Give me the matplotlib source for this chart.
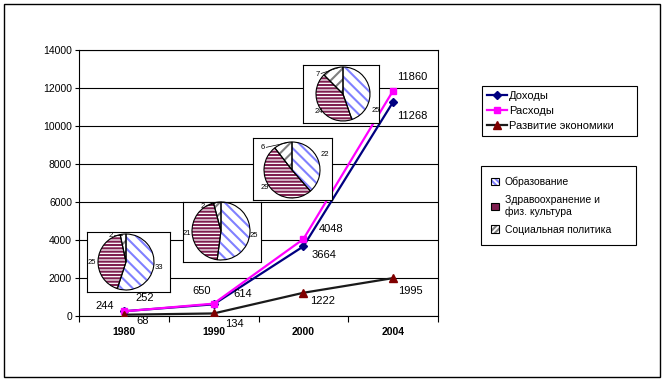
import numpy as np
import matplotlib
matplotlib.use("Agg")
import matplotlib.pyplot as plt
from matplotlib.patches import Patch, Rectangle

plt.rcParams['font.family'] = ['Liberation Sans', 'DejaVu Sans']
plt.rcParams['hatch.linewidth'] = 1.5

years = ['1980', '1990', '2000', '2004']
income = [252, 614, 3664, 11268]      # Доходы
expenses = [244, 650, 4048, 11860]    # Расходы
economy = [68, 134, 1222, 1995]       # Развитие экономики

# pie data per year
edu = [33, 25, 22, 25]
health = [25, 21, 29, 24]
social = [2, 2, 6, 7]

W, H = 666, 385
fig = plt.figure(figsize=(W / 100, H / 100), dpi=100)

# outer frame
fig.add_artist(Rectangle((4 / W, 1 - 377 / H), 656 / W, 373 / H, transform=fig.transFigure,
                         fill=False, ec='black', lw=1))

ax = fig.add_axes([79 / W, 1 - 316 / H, 359 / W, 266 / H])
x = np.arange(1, len(years) + 1)

l1, = ax.plot(x, income, color='#000080', marker='D', ms=4.5, lw=1.6, zorder=3)
l2, = ax.plot(x, expenses, color='#FF00FF', marker='s', ms=4.5, lw=1.6, zorder=3)
l3, = ax.plot(x, economy, color='#1a1a1a', marker='^', ms=5.5, mfc='#800000', mec='#800000',
              lw=1.6, zorder=3)

ax.set_xlim(0.5, 4.5)
ax.set_ylim(0, 14000)
ax.set_yticks(range(0, 14001, 2000))
ax.yaxis.grid(True, color='black', lw=0.8)
ax.set_axisbelow(True)
ax.tick_params(axis='y', length=3, width=0.8, pad=2, labelsize=7.5)
ax.set_xticks(np.arange(0.5, 4.6, 1))
ax.set_xticklabels([])
ax.tick_params(axis='x', which='major', length=4, width=0.8, direction='out')
ax.set_xticks(x, minor=True)
ax.set_xticklabels(years, minor=True, fontweight='bold', fontsize=7.5)
ax.tick_params(axis='x', which='minor', length=0, pad=8)
for s in ax.spines.values():
    s.set_linewidth(0.8)
    s.set_color('black')

# data labels (offsets in pixels -> points)
def lab(xi, v, dx, dy):
    ax.annotate(str(v), (xi, v), xytext=(dx * 0.72, dy * 0.72), textcoords='offset points',
                ha='center', va='center', fontsize=8, zorder=5)

exp_off = [(-19, 5), (-12, 13), (28, 10), (19, 14)]
inc_off = [(21, 13), (29, 10), (21, -9), (19, -14)]
eco_off = [(19, -6), (21, -11), (19, -8), (17, -13)]
for i in range(4):
    lab(x[i], expenses[i], *exp_off[i])
    lab(x[i], income[i], *inc_off[i])
    lab(x[i], economy[i], *eco_off[i])

# inset pies
hatch_cols = ['#8080FF', '#7f1f50', '#808080']
hatches = ['\\\\\\', '-----', '///']
boxes = [(87, 232, 170, 292), (183, 202, 261, 262), (253, 138, 332, 200), (303, 65, 379, 123)]
centers = [(126, 262, 28), (221, 231, 29), (292, 170, 28), (343, 94, 27)]
label_pos = [
    [(1.18, -0.21), (-1.21, 0.0), (-0.54, 0.96)],
    [(1.14, -0.14), (-1.17, -0.1), (-0.62, 0.83)],
    [(1.18, 0.54), (-0.96, -0.64), (-1.04, 0.79)],
    [(1.2, -0.6), (-0.9, -0.63), (-0.93, 0.74)],
]
for k in range(4):
    left, top, right, bottom = boxes[k]
    cx, cy, r = centers[k]
    pax = fig.add_axes([left / W, 1 - bottom / H, (right - left) / W, (bottom - top) / H])
    vals = [edu[k], health[k], social[k]]
    wedges, _ = pax.pie(vals, colors=['white'] * 3, startangle=90, counterclock=False,
                        wedgeprops=dict(lw=0))
    for w, hc, h in zip(wedges, hatch_cols, hatches):
        w.set_hatch(h)
        w.set_edgecolor(hc)
    pax.pie(vals, colors=['none'] * 3, startangle=90, counterclock=False,
            wedgeprops=dict(lw=0.8, edgecolor='black', fill=False))
    pax.set_aspect('auto')
    pax.set_xlim((left - cx) / r, (right - cx) / r)
    pax.set_ylim(-(bottom - cy) / r, (cy - top) / r)
    pax.set_frame_on(True)
    for s in pax.spines.values():
        s.set_linewidth(0.8)
        s.set_color('black')
    pax.set_facecolor('white')
    for v, (tx, ty) in zip(vals, label_pos[k]):
        pax.text(tx, ty, str(v), fontsize=5.5, ha='center', va='center')
    # leader line for the small slice
    tx, ty = label_pos[k][2]
    pax.plot([tx + 0.12, -0.15], [ty + 0.02, 0.98], color='black', lw=0.5)

# legends
leg1 = fig.legend([l1, l2, l3], ['Доходы', 'Расходы', 'Развитие экономики'],
                  loc='upper left', bbox_to_anchor=(482 / W, 1 - 86 / H - 0.01, 155 / W, 0.01),
                  mode='expand', fancybox=False, edgecolor='black', framealpha=1,
                  borderaxespad=0, fontsize=8, handlelength=1.8, handletextpad=0.2,
                  labelspacing=0.45, borderpad=0.45)
leg1.get_frame().set_linewidth(0.8)

leg_hatches = ['\\\\\\\\\\\\', '--------', '//////']
pie_handles = [(Patch(facecolor='white', edgecolor=hc, hatch=h, lw=0),
                Patch(facecolor='none', edgecolor='black', lw=0.8))
               for hc, h in zip(hatch_cols, leg_hatches)]
leg2 = fig.legend(pie_handles, ['Образование', 'Здравоохранение и\nфиз. культура', 'Социальная политика'],
                  loc='upper left', bbox_to_anchor=(481 / W, 1 - 166 / H - 0.01, 155 / W, 0.01),
                  mode='expand', fancybox=False, edgecolor='black', framealpha=1,
                  borderaxespad=0, fontsize=7.5, handlelength=0.7, handleheight=0.7,
                  handletextpad=0.6, labelspacing=0.75, borderpad=1.0)
leg2.get_frame().set_linewidth(0.8)

fig.savefig('out.png', dpi=100)
